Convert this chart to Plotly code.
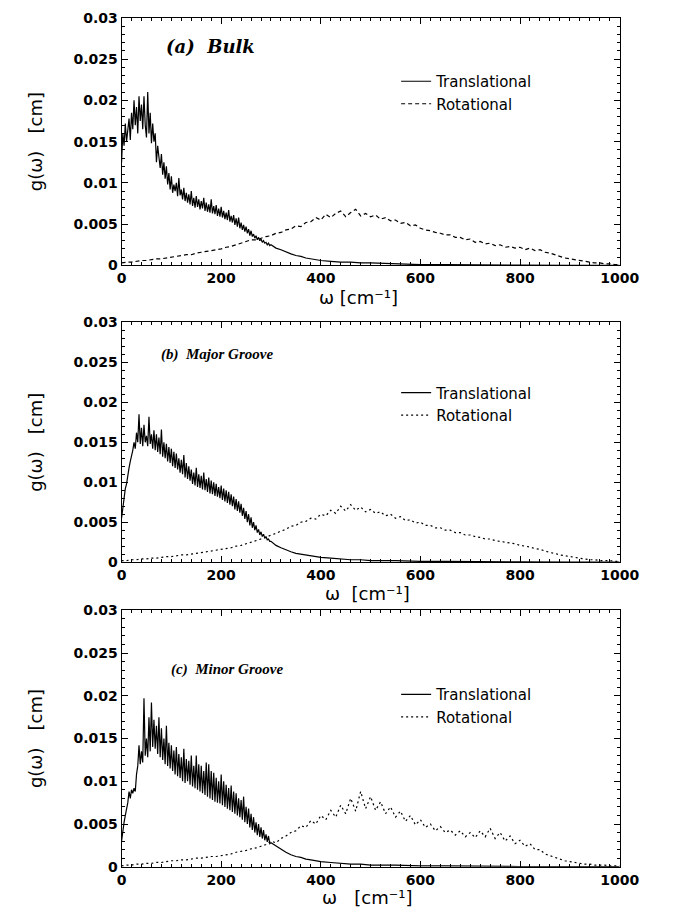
import plotly.graph_objects as go

# ---------------- data ----------------
panel_labels = ["(a)  Bulk", "(b)  Major Groove", "(c)  Minor Groove"]
x_titles = ["ω [cm⁻¹]", "ω  [cm⁻¹]", "ω   [cm⁻¹]"]
y_title = "g(ω)   [cm]"
series_names = ["Translational", "Rotational"]

trans_omega = [i * 2.5 for i in range(121)] + [310, 320, 330, 340, 350, 360, 370, 380, 390, 400,
                                               420, 440, 460, 480, 500, 550, 600, 650, 700, 800, 900, 1000]
rot_omega = list(range(0, 1010, 10))

trans_tail_a = [0.0021, 0.0019, 0.0016, 0.0014, 0.0012, 0.0011, 0.0009, 0.0008, 0.0007, 0.0006,
                0.0005, 0.0004, 0.0004, 0.0003, 0.0003, 0.0002, 0.0001, 0.0001, 0.00005, 0.00003,
                0.00002, 0.00001]
trans_a = [
    0.0125, 0.0160, 0.0145, 0.0172, 0.0150, 0.0168, 0.0178, 0.0152, 0.0185, 0.0165,
    0.0200, 0.0170, 0.0192, 0.0160, 0.0205, 0.0175, 0.0195, 0.0165, 0.0205, 0.0170,
    0.0155, 0.0210, 0.0160, 0.0185, 0.0148, 0.0172, 0.0150, 0.0160, 0.0125, 0.0145,
    0.0130, 0.0118, 0.0135, 0.0110, 0.0125, 0.0105, 0.0120, 0.0098, 0.0112, 0.0092,
    0.0108, 0.0088, 0.0098, 0.0090, 0.0100, 0.0084, 0.0106, 0.0085, 0.0092, 0.0080,
    0.0094, 0.0078, 0.0088, 0.0076, 0.0086, 0.0074, 0.0090, 0.0072, 0.0082, 0.0070,
    0.0084, 0.0071, 0.0080, 0.0068, 0.0078, 0.0069, 0.0082, 0.0066, 0.0076, 0.0065,
    0.0074, 0.0064, 0.0080, 0.0063, 0.0072, 0.0062, 0.0073, 0.0060, 0.0069, 0.0059,
    0.0071, 0.0058, 0.0066, 0.0056, 0.0064, 0.0055, 0.0067, 0.0053, 0.0060, 0.0052,
    0.0061, 0.0049, 0.0057, 0.0047, 0.0058, 0.0045, 0.0052, 0.0043, 0.0049, 0.0041,
    0.0047, 0.0039, 0.0044, 0.0036, 0.0042, 0.0035, 0.0038, 0.0033, 0.0036, 0.0031,
    0.0034, 0.0030, 0.0032, 0.0028, 0.0030, 0.0027, 0.0028, 0.0025, 0.0027, 0.0024,
    0.0025,
] + trans_tail_a
rot_a = [
    0.0003, 0.0004, 0.0004, 0.0005, 0.0006, 0.0006, 0.0007, 0.0008, 0.0008, 0.0009,
    0.0010, 0.0011, 0.0012, 0.0013, 0.0013, 0.0015, 0.0016, 0.0017, 0.0018, 0.0019,
    0.0020, 0.0022, 0.0023, 0.0025, 0.0027, 0.0029, 0.0031, 0.0031, 0.0033, 0.0035,
    0.0036, 0.0039, 0.0040, 0.0043, 0.0044, 0.0048, 0.0047, 0.0052, 0.0053, 0.0058,
    0.0055, 0.0062, 0.0058, 0.0063, 0.0066, 0.0059, 0.0064, 0.0068, 0.0060, 0.0063,
    0.0059, 0.0061, 0.0056, 0.0058, 0.0054, 0.0055, 0.0051, 0.0052, 0.0048, 0.0049,
    0.0045, 0.0043, 0.0042, 0.0040, 0.0039, 0.0037, 0.0037, 0.0034, 0.0034, 0.0031,
    0.0032, 0.0028, 0.0029, 0.0026, 0.0027, 0.0024, 0.0025, 0.0022, 0.0023, 0.0021,
    0.0022, 0.0019, 0.0021, 0.0018, 0.0019, 0.0016, 0.0015, 0.0013, 0.0011, 0.0009,
    0.0008, 0.0007, 0.0006, 0.0005, 0.0004, 0.0003, 0.0003, 0.0002, 0.0002, 0.0001,
    0.0001,
]

trans_tail_b = [0.0021, 0.0018, 0.0015, 0.0013, 0.0011, 0.0010, 0.0009, 0.0008, 0.0007, 0.0006,
                0.0005, 0.0004, 0.0003, 0.0003, 0.0002, 0.0002, 0.0001, 0.0001, 0.00005, 0.00003,
                0.00002, 0.00001]
trans_b = [
    0.0055, 0.0070, 0.0078, 0.0092, 0.0098, 0.0110, 0.0118, 0.0126, 0.0132, 0.0140,
    0.0150, 0.0142, 0.0162, 0.0150, 0.0185, 0.0148, 0.0168, 0.0145, 0.0172, 0.0150,
    0.0158, 0.0145, 0.0182, 0.0148, 0.0160, 0.0142, 0.0165, 0.0140, 0.0160, 0.0138,
    0.0156, 0.0135, 0.0166, 0.0132, 0.0150, 0.0130, 0.0148, 0.0126, 0.0144, 0.0124,
    0.0142, 0.0120, 0.0138, 0.0118, 0.0136, 0.0116, 0.0130, 0.0112, 0.0128, 0.0110,
    0.0134, 0.0106, 0.0124, 0.0104, 0.0120, 0.0102, 0.0116, 0.0098, 0.0112, 0.0096,
    0.0118, 0.0094, 0.0110, 0.0093, 0.0108, 0.0091, 0.0112, 0.0090, 0.0104, 0.0088,
    0.0106, 0.0086, 0.0102, 0.0085, 0.0100, 0.0083, 0.0098, 0.0082, 0.0094, 0.0080,
    0.0096, 0.0078, 0.0092, 0.0076, 0.0090, 0.0074, 0.0088, 0.0072, 0.0085, 0.0070,
    0.0082, 0.0066, 0.0079, 0.0064, 0.0076, 0.0062, 0.0073, 0.0058, 0.0068, 0.0054,
    0.0064, 0.0050, 0.0060, 0.0046, 0.0056, 0.0043, 0.0050, 0.0040, 0.0046, 0.0037,
    0.0041, 0.0034, 0.0038, 0.0032, 0.0035, 0.0030, 0.0032, 0.0028, 0.0029, 0.0026,
    0.0026,
] + trans_tail_b
rot_b = [
    0.0002, 0.0002, 0.0003, 0.0003, 0.0004, 0.0004, 0.0005, 0.0005, 0.0006, 0.0007,
    0.0007, 0.0008, 0.0009, 0.0009, 0.0010, 0.0011, 0.0012, 0.0013, 0.0014, 0.0015,
    0.0016, 0.0017, 0.0018, 0.0020, 0.0021, 0.0023, 0.0025, 0.0027, 0.0029, 0.0031,
    0.0034, 0.0036, 0.0039, 0.0041, 0.0045, 0.0046, 0.0050, 0.0051, 0.0055, 0.0054,
    0.0060, 0.0058, 0.0065, 0.0061, 0.0070, 0.0064, 0.0072, 0.0065, 0.0069, 0.0063,
    0.0066, 0.0061, 0.0063, 0.0058, 0.0060, 0.0055, 0.0057, 0.0052, 0.0053, 0.0049,
    0.0050, 0.0046, 0.0046, 0.0043, 0.0043, 0.0040, 0.0040, 0.0037, 0.0037, 0.0034,
    0.0034, 0.0032, 0.0031, 0.0029, 0.0029, 0.0027, 0.0026, 0.0025, 0.0024, 0.0023,
    0.0021, 0.0020, 0.0019, 0.0017, 0.0016, 0.0014, 0.0012, 0.0011, 0.0009, 0.0008,
    0.0007, 0.0006, 0.0005, 0.0004, 0.0003, 0.0003, 0.0002, 0.0002, 0.0002, 0.0001,
    0.0001,
]

trans_tail_c = [0.0024, 0.0020, 0.0017, 0.0014, 0.0012, 0.0011, 0.0009, 0.0008, 0.0007, 0.0006,
                0.0005, 0.0004, 0.0003, 0.0003, 0.0002, 0.0002, 0.0001, 0.0001, 0.00005, 0.00003,
                0.00002, 0.00001]
trans_c = [
    0.0030, 0.0045, 0.0052, 0.0060, 0.0068, 0.0075, 0.0088, 0.0080, 0.0090, 0.0086,
    0.0092, 0.0088, 0.0108, 0.0118, 0.0142, 0.0120, 0.0135, 0.0122, 0.0197, 0.0130,
    0.0150, 0.0128, 0.0175, 0.0135, 0.0192, 0.0140, 0.0172, 0.0138, 0.0165, 0.0132,
    0.0175, 0.0128, 0.0162, 0.0125, 0.0150, 0.0120, 0.0165, 0.0118, 0.0145, 0.0115,
    0.0142, 0.0112, 0.0136, 0.0108, 0.0140, 0.0106, 0.0132, 0.0104, 0.0128, 0.0100,
    0.0138, 0.0098, 0.0126, 0.0100, 0.0124, 0.0096, 0.0130, 0.0094, 0.0118, 0.0092,
    0.0130, 0.0090, 0.0120, 0.0088, 0.0118, 0.0086, 0.0112, 0.0084, 0.0122, 0.0082,
    0.0120, 0.0080, 0.0112, 0.0078, 0.0110, 0.0076, 0.0104, 0.0075, 0.0100, 0.0074,
    0.0108, 0.0072, 0.0100, 0.0070, 0.0096, 0.0068, 0.0092, 0.0066, 0.0095, 0.0064,
    0.0088, 0.0062, 0.0086, 0.0060, 0.0080, 0.0058, 0.0078, 0.0055, 0.0082, 0.0052,
    0.0070, 0.0050, 0.0068, 0.0046, 0.0062, 0.0043, 0.0058, 0.0040, 0.0052, 0.0037,
    0.0050, 0.0035, 0.0046, 0.0033, 0.0043, 0.0031, 0.0038, 0.0029, 0.0036, 0.0027,
    0.0028,
] + trans_tail_c
rot_c = [
    0.0001, 0.0002, 0.0002, 0.0003, 0.0003, 0.0004, 0.0004, 0.0005, 0.0005, 0.0006,
    0.0007, 0.0007, 0.0008, 0.0008, 0.0009, 0.0010, 0.0010, 0.0011, 0.0012, 0.0012,
    0.0013, 0.0014, 0.0015, 0.0017, 0.0018, 0.0019, 0.0021, 0.0022, 0.0024, 0.0026,
    0.0030, 0.0028, 0.0033, 0.0036, 0.0040, 0.0042, 0.0048, 0.0046, 0.0054, 0.0050,
    0.0060, 0.0055, 0.0066, 0.0058, 0.0072, 0.0062, 0.0080, 0.0065, 0.0088, 0.0068,
    0.0082, 0.0066, 0.0076, 0.0062, 0.0070, 0.0058, 0.0065, 0.0053, 0.0060, 0.0049,
    0.0055, 0.0046, 0.0050, 0.0042, 0.0047, 0.0040, 0.0043, 0.0037, 0.0042, 0.0035,
    0.0040, 0.0034, 0.0042, 0.0035, 0.0045, 0.0033, 0.0040, 0.0030, 0.0036, 0.0027,
    0.0031, 0.0024, 0.0027, 0.0020, 0.0020, 0.0015, 0.0013, 0.0011, 0.0009, 0.0007,
    0.0006, 0.0005, 0.0004, 0.0003, 0.0003, 0.0002, 0.0002, 0.0002, 0.0001, 0.0001,
    0.0001,
]

trans_sets = [trans_a, trans_b, trans_c]
rot_sets = [rot_a, rot_b, rot_c]
rot_dashes = ["4px,3px", "2px,3px", "2px,3px"]

# ---------------- layout ----------------
W, H = 683, 917
x_dom = [121 / W, 638 / W]
panels_px = [(10, 262), (320, 564), (613, 874)]    # top, bottom pixel of each plot area
legend_px = [(406, 58), (406, 375), (406, 682)]     # left, top pixel of each legend
xtitle_px = [(367, 306), (376, 608), (376, 917)]    # centre-x, bottom-y of each x-axis title

fig = go.Figure()
layout = dict(
    width=W, height=H,
    margin=dict(l=0, r=0, t=0, b=0),
    paper_bgcolor="white", plot_bgcolor="white",
    font=dict(family="DejaVu Sans", color="black"),
    showlegend=True,
)

axis_font = dict(family="DejaVu Sans", size=14, color="black", weight="bold")

for i in range(3):
    n = "" if i == 0 else str(i + 1)
    leg = "legend" if i == 0 else f"legend{i + 1}"
    fig.add_trace(go.Scatter(
        x=trans_omega, y=trans_sets[i], mode="lines", name=series_names[0],
        line=dict(color="black", width=1.2), xaxis=f"x{n}", yaxis=f"y{n}", legend=leg,
    ))
    fig.add_trace(go.Scatter(
        x=rot_omega, y=rot_sets[i], mode="lines", name=series_names[1],
        line=dict(color="black", width=1.2, dash=rot_dashes[i]), xaxis=f"x{n}", yaxis=f"y{n}", legend=leg,
    ))
    top, bot = panels_px[i]
    layout[f"xaxis{n}"] = dict(
        domain=x_dom, anchor=f"y{n}", range=[0, 1000], dtick=200, tick0=0,
        ticks="inside", ticklen=6, tickwidth=1, tickcolor="black",
        showline=True, linecolor="black", linewidth=1, mirror="ticks",
        showgrid=False, zeroline=False, tickfont=axis_font,
        minor=dict(ticks="inside", ticklen=3, dtick=20, tickcolor="black", showgrid=False),
    )
    layout[f"yaxis{n}"] = dict(
        domain=[1 - bot / H, 1 - top / H], anchor=f"x{n}", range=[0, 0.03], dtick=0.005, tick0=0,
        ticks="inside", ticklen=6, tickwidth=1, tickcolor="black",
        showline=True, linecolor="black", linewidth=1, mirror="ticks",
        showgrid=False, zeroline=False, tickfont=axis_font,
        minor=dict(ticks="inside", ticklen=3, dtick=0.001, tickcolor="black", showgrid=False),
        title=dict(text=y_title, font=dict(family="DejaVu Sans", size=18, color="black"), standoff=26),
    )
    lx, ly = legend_px[i]
    layout[leg] = dict(
        x=lx / W, y=1 - ly / H, xanchor="left", yanchor="top",
        bgcolor="rgba(0,0,0,0)", borderwidth=0,
        font=dict(family="DejaVu Sans", size=15, color="black"),
        tracegroupgap=0,
    )

fig.update_layout(**layout)

# x-axis titles
for i in range(3):
    cx, by = xtitle_px[i]
    fig.add_annotation(
        x=cx / W, y=1 - by / H, xref="paper", yref="paper", text=x_titles[i],
        showarrow=False, xanchor="center", yanchor="bottom", borderpad=0,
        font=dict(family="DejaVu Sans", size=18, color="black"),
    )

# panel labels
ann_pos = [(85, 0.0265), (76, 0.0260), (96, 0.0231)]
ann_fonts = [("DejaVu Serif", 18), ("Liberation Serif", 15), ("Liberation Serif", 15)]
for i in range(3):
    n = "" if i == 0 else str(i + 1)
    fig.add_annotation(
        x=ann_pos[i][0], y=ann_pos[i][1], xref=f"x{n}", yref=f"y{n}",
        text=f"<b><i>{panel_labels[i]}</i></b>", showarrow=False, xanchor="left", yanchor="middle",
        font=dict(family=ann_fonts[i][0], size=ann_fonts[i][1], color="black"),
    )

fig.write_html("out.html")
